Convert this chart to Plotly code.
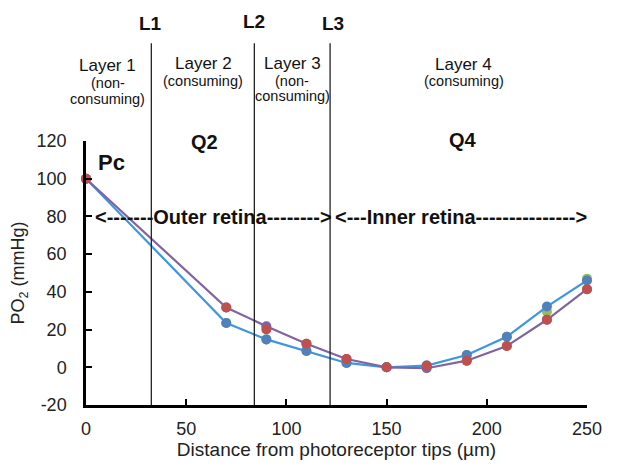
import plotly.graph_objects as go

x_vals = [0, 70, 90, 110, 130, 150, 170, 190, 210, 230, 250]
green_vals = [100, 23.5, 14.8, 8.7, 2.3, 0, 0.9, 6.5, 16.2, 29.5, 47.0]
blue_vals = [100, 23.5, 14.8, 8.7, 2.3, 0, 0.9, 6.5, 16.2, 32.2, 46.0]
purple_vals = [100, 31.7, 21.8, 12.5, 4.4, 0, -0.5, 3.5, 11.3, 25.2, 41.4]
red_vals = [100, 31.7, 20.0, 12.5, 4.4, 0, 0.8, 3.5, 11.3, 25.2, 41.4]

boundaries = {"L1": 32.6, "L2": 84.0, "L3": 121.8}
x_ticks = [0, 50, 100, 150, 200, 250]
y_ticks = [-20, 0, 20, 40, 60, 80, 100, 120]
y_tick_labels = ["-20", "0", "20", "40", "60", "80", "100", "120"]

FONT = "Liberation Sans, Arial, sans-serif"

fig = go.Figure()
fig.add_trace(go.Scatter(x=x_vals, y=green_vals, mode="markers",
                         marker=dict(color="#9BBB59", size=10), cliponaxis=False,
                         showlegend=False))
fig.add_trace(go.Scatter(x=x_vals, y=blue_vals, mode="lines+markers",
                         line=dict(color="#3F96E0", width=2.2),
                         marker=dict(color="#4F81BD", size=10), cliponaxis=False,
                         showlegend=False))
fig.add_trace(go.Scatter(x=x_vals, y=purple_vals, mode="lines+markers",
                         line=dict(color="#8064A2", width=2.2),
                         marker=dict(color="#8064A2", size=10), cliponaxis=False,
                         showlegend=False))
fig.add_trace(go.Scatter(x=x_vals, y=red_vals, mode="markers",
                         marker=dict(color="#C0504D", size=10), cliponaxis=False,
                         showlegend=False))

# Vertical layer boundaries, extending above the plot area
for name, xv in boundaries.items():
    fig.add_shape(type="line", xref="x", yref="paper", x0=xv, x1=xv, y0=0, y1=1.37,
                  line=dict(color="#222222", width=1.3))

ann = []
def txt(x, y, s, size, bold=False, color="#111111", xanchor="center"):
    ann.append(dict(xref="x", yref="paper", x=x, y=y, text=("<b>%s</b>" % s) if bold else s,
                    showarrow=False, font=dict(family=FONT, size=size, color=color),
                    xanchor=xanchor, yanchor="middle"))

def ypx(p):
    # convert pixel row to paper coordinate (plot spans 141..410)
    return (410 - p) / (410 - 141)

txt(boundaries["L1"] - 0.5, ypx(21), "L1", 19, True)
txt(boundaries["L2"], ypx(19), "L2", 19, True)
txt(boundaries["L3"] + 1.5, ypx(21), "L3", 19, True)

txt(10.8, ypx(64), "Layer 1", 17)
txt(10.8, ypx(82), "(non-", 14.5)
txt(10.8, ypx(98), "consuming)", 14.5)
txt(58.6, ypx(62), "Layer 2", 17)
txt(58.6, ypx(80), "(consuming)", 14.5)
txt(103, ypx(62), "Layer 3", 17)
txt(103, ypx(80), "(non-", 14.5)
txt(103, ypx(95), "consuming)", 14.5)
txt(188.5, ypx(63), "Layer 4", 17)
txt(188.5, ypx(80), "(consuming)", 14.5)

txt(59.2, ypx(142), "Q2", 20, True)
txt(188.2, ypx(140), "Q4", 20, True)
txt(12.8, ypx(163), "Pc", 22, True)
txt(266.5, ypx(280), "Pv", 22, True)

ann.append(dict(xref="x", yref="y", x=3.5, y=79.7,
                text="<b>&lt;-------Outer retina--------&gt;</b>",
                showarrow=False, xanchor="left", yanchor="middle",
                font=dict(family=FONT, size=20, color="#111111")))
ann.append(dict(xref="x", yref="y", x=123.4, y=79.7,
                text="<b>&lt;---Inner retina---------------&gt;</b>",
                showarrow=False, xanchor="left", yanchor="middle",
                font=dict(family=FONT, size=20, color="#111111")))

fig.update_layout(
    width=633, height=468,
    margin=dict(l=86, r=46, t=141, b=58),
    paper_bgcolor="white", plot_bgcolor="white",
    annotations=ann,
    font=dict(family=FONT, color="#222222"),
)
fig.update_xaxes(range=[0, 250], tickvals=x_ticks, ticks="inside", ticklen=6, tickwidth=2,
                 tickcolor="black", showline=True, linecolor="black", linewidth=2.5,
                 showgrid=False, zeroline=False, ticklabelstandoff=6,
                 tickfont=dict(size=18, color="#222222"),
                 title=dict(text="Distance from photoreceptor tips (µm)", standoff=3,
                            font=dict(size=19, color="#222222")))
fig.update_yaxes(range=[-20, 120], tickvals=y_ticks, ticktext=y_tick_labels,
                 ticks="inside", ticklen=6, tickwidth=2,
                 tickcolor="black", showline=True, linecolor="black", linewidth=2.5,
                 showgrid=False, zeroline=False, ticklabelstandoff=13,
                 tickfont=dict(size=18, color="#222222"),
                 title=dict(text="PO<sub>2</sub> (mmHg)", standoff=8,
                            font=dict(size=18, color="#222222")))

fig.write_html("out.html")
